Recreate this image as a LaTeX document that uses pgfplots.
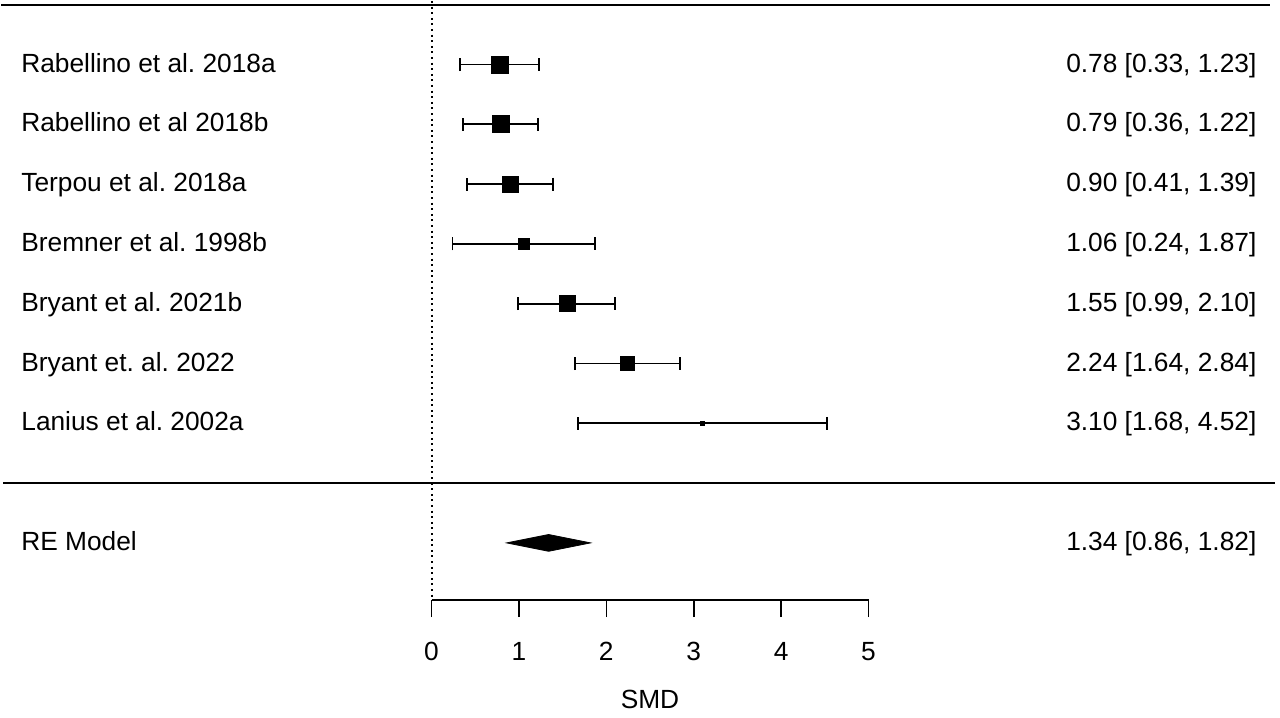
\documentclass[border=0pt]{standalone}
\usepackage{pgfplots}
\usepackage{pgfplotstable}
\pgfplotsset{compat=1.18}
\usepackage{fontspec}
\setmainfont{Liberation Sans}

% study rows: y position, estimate, lower, upper, square half-size (bp)
\pgfplotstableread[col sep=semicolon]{
y;est;lo;hi;sz;label;ci
7;0.78;0.33;1.23;4.3;Rabellino et al. 2018a;0.78 [0.33, 1.23]
6;0.79;0.36;1.22;4.3;Rabellino et al 2018b;0.79 [0.36, 1.22]
5;0.90;0.41;1.39;4.1;Terpou et al. 2018a;0.90 [0.41, 1.39]
4;1.06;0.24;1.87;2.8;Bremner et al. 1998b;1.06 [0.24, 1.87]
3;1.55;0.99;2.10;4.0;Bryant et al. 2021b;1.55 [0.99, 2.10]
2;2.24;1.64;2.84;3.7;Bryant et. al. 2022;2.24 [1.64, 2.84]
1;3.10;1.68;4.52;1.1;Lanius et al. 2002a;3.10 [1.68, 4.52]
}\studies

\pgfplotstableread[col sep=semicolon]{
y;label;ci
-1;RE Model;1.34 [0.86, 1.82]
}\summary

\begin{document}
\frenchspacing
\fontsize{13.2}{15}\selectfont
\begin{tikzpicture}
\begin{axis}[
    name=main,
    scale only axis,
    width=640bp, height=355.5bp,
    xmin=-4.937, xmax=9.708,
    ymin=-3.828, ymax=8.062,
    hide axis,
    clip=false,
]
% bounding frame (invisible)
\path (rel axis cs:0,0) rectangle (rel axis cs:1,1);

% separators
\addplot[black, line width=0.8bp] coordinates {(-4.92,8) (9.59,8)};
\addplot[black, line width=0.8bp] coordinates {(-4.90,0) (9.65,0)};
% reference line at 0
\addplot[black, line width=1bp, dash pattern=on 1bp off 1.8bp] coordinates {(0,8.062) (0,-1.955)};

% study estimates with CIs
\addplot[
    scatter, only marks, mark=square*,
    scatter/use mapped color={draw=black, fill=black},
    visualization depends on={\thisrow{sz} \as \msz},
    scatter/@pre marker code/.append style={/tikz/mark size=\msz},
    error bars/.cd, x dir=both, x explicit,
    error bar style={black, line width=0.95bp},
    error mark options={black, line width=0.95bp, mark size=3.25bp, rotate=90},
] table[x=est, y=y,
    x error plus expr=\thisrow{hi}-\thisrow{est},
    x error minus expr=\thisrow{est}-\thisrow{lo}] {\studies};

% pooled estimate diamond
\addplot[fill=black, draw=black, line width=0.4bp] coordinates {
    (0.86,-1) (1.34,-0.86) (1.82,-1) (1.34,-1.14)} -- cycle;

% left labels
\addplot[only marks, mark=none, nodes near coords, point meta=explicit symbolic,
    nodes near coords style={anchor=base west, inner sep=0pt, yshift=-3.75bp, black}]
    table[x expr=-4.697, y=y, meta=label] {\studies};
\addplot[only marks, mark=none, nodes near coords, point meta=explicit symbolic,
    nodes near coords style={anchor=base west, inner sep=0pt, yshift=-3.75bp, black}]
    table[x expr=-4.697, y=y, meta=label] {\summary};
% right annotations
\addplot[only marks, mark=none, nodes near coords, point meta=explicit symbolic,
    nodes near coords style={anchor=base east, inner sep=0pt, yshift=-3.75bp, black}]
    table[x expr=9.442, y=y, meta=ci] {\studies};
\addplot[only marks, mark=none, nodes near coords, point meta=explicit symbolic,
    nodes near coords style={anchor=base east, inner sep=0pt, yshift=-3.75bp, black}]
    table[x expr=9.442, y=y, meta=ci] {\summary};
\end{axis}

% SMD scale
\begin{axis}[
    at={(215.75bp,56bp)}, anchor=south west,
    scale only axis,
    width=218.5bp, height=1bp,
    xmin=0, xmax=5, ymin=0, ymax=1,
    axis x line*=bottom,
    axis y line=none,
    x axis line style={-, line width=0.8bp},
    xtick={0,1,2,3,4,5},
    tick align=outside,
    major tick length=8.5bp,
    every tick/.style={black, line width=0.8bp},
    xticklabel shift=8bp,
    xlabel={SMD},
    xlabel style={at={(axis description cs:0.5,0)}, anchor=center, yshift=-49.5bp},
    /pgf/number format/assume math mode=true,
]
\addplot[draw=none] coordinates {(0,0)};
\end{axis}
\end{tikzpicture}
\end{document}
